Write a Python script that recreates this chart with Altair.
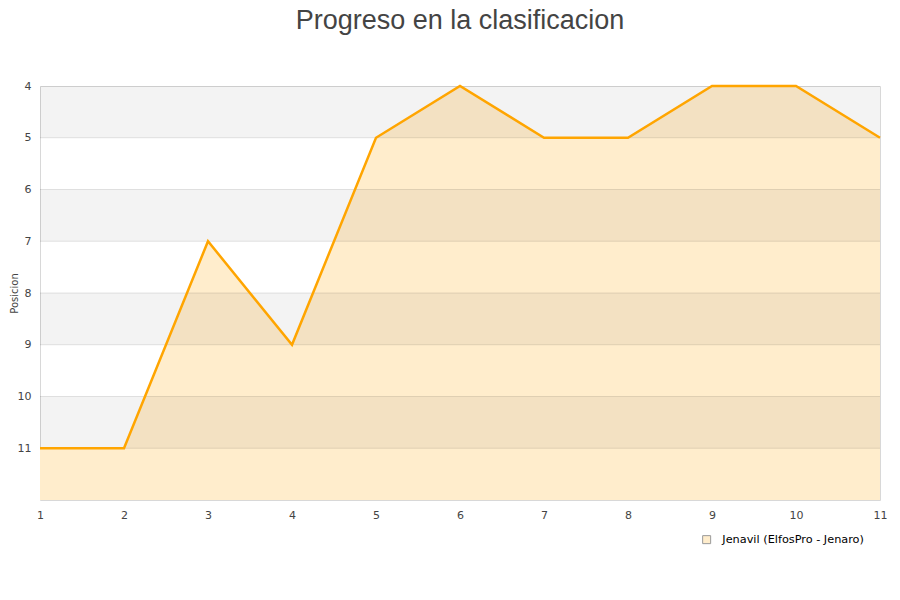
import altair as alt
import pandas as pd

jornadas = [1, 2, 3, 4, 5, 6, 7, 8, 9, 10, 11]
posiciones = [11, 11, 7, 9, 5, 4, 5, 5, 4, 4, 5]
serie = "Jenavil (ElfosPro - Jenaro)"
band_start = [4, 6, 8, 10]
band_end = [5, 7, 9, 11]
grid_values = [5, 6, 7, 8, 9, 10, 11]

df = pd.DataFrame({"jornada": jornadas, "posicion": posiciones, "serie": serie})
bands = pd.DataFrame({"y1": band_start, "y2": band_end})
grid = pd.DataFrame({"g": grid_values})

xscale = alt.Scale(domain=[1, 11], nice=False)
yscale = alt.Scale(domain=[4, 12], reverse=True, nice=False, zero=False)

area = alt.Chart(df).mark_area(interpolate="linear", opacity=1).encode(
    x=alt.X("jornada:Q", scale=xscale,
            axis=alt.Axis(values=jornadas, format="d", ticks=False, domain=False,
                          grid=False, labelColor="#444", labelFontSize=11,
                          labelPadding=9, title=None, labelFont="DejaVu Sans",
                          labelFlush=False)),
    y=alt.Y("posicion:Q", scale=yscale,
            axis=alt.Axis(values=[4, 5, 6, 7, 8, 9, 10, 11, 12], ticks=False, domain=False,
                          grid=False,
                          labelColor="#444", labelFontSize=11, labelPadding=9,
                          labelExpr="datum.value == 12 ? '' : datum.label",
                          title="Posicion", titleFontSize=10, titleFontWeight="normal",
                          titleColor="#444", titleX=-21, titleY=207, titleAngle=270,
                          titleAlign="center", titleBaseline="bottom",
                          labelFont="DejaVu Sans", titleFont="DejaVu Sans")),
    y2=alt.datum(12),
    color=alt.Color("serie:N", scale=alt.Scale(range=["#FFEDCC"]),
                    legend=alt.Legend(title=None, orient="none", legendX=661, legendY=448,
                                      symbolType="square", symbolSize=64,
                                      symbolStrokeColor="#999",
                                      symbolStrokeWidth=1, symbolOpacity=1,
                                      labelOffset=10,
                                      labelFontSize=11.3, labelColor="#000",
                                      labelFont="DejaVu Sans")),
)

band_layer = alt.Chart(bands).mark_rect(color="#000000", opacity=0.047).encode(
    x=alt.value(0), x2=alt.value(840),
    y=alt.Y("y1:Q", scale=yscale),
    y2="y2:Q",
)

grid_layer = alt.Chart(grid).mark_rule(color="#000000", opacity=0.1, strokeWidth=1).encode(
    y=alt.Y("g:Q", scale=yscale),
)

line = alt.Chart(df).mark_line(color="#FFA500", strokeWidth=2.5, interpolate="linear").encode(
    x=alt.X("jornada:Q", scale=xscale),
    y=alt.Y("posicion:Q", scale=yscale),
)

chart = alt.layer(area, band_layer, grid_layer, line).properties(
    width=840, height=414,
    title=alt.TitleParams("Progreso en la clasificacion", fontSize=27, fontWeight="normal",
                          color="#444", font="Liberation Sans", offset=45, anchor="middle"),
    autosize=alt.AutoSizeParams(type="none"),
    padding={"left": 32, "top": 78, "right": 12, "bottom": 92},
).configure_view(stroke="#d8d8d8", strokeWidth=1)

chart.save("out.html", embed_options={"renderer": "svg", "actions": False})
